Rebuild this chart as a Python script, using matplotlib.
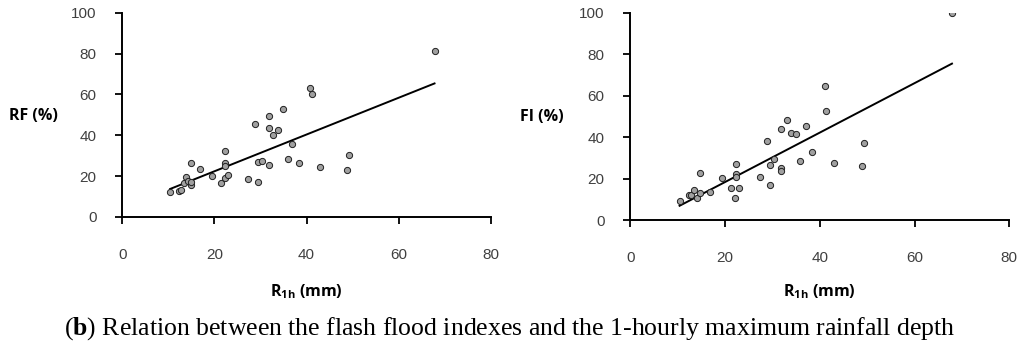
import numpy as np
import matplotlib
matplotlib.use("Agg")
import matplotlib.pyplot as plt

# values
rf_x = [10.4, 12.4, 12.8, 13.4, 13.8, 14.3, 14.9, 14.9, 15.0, 16.9, 19.4, 21.4, 22.2,
        22.4, 22.4, 22.4, 23.0, 27.4, 28.9, 29.5, 29.5, 30.4, 31.9, 31.9, 31.9, 32.8,
        33.9, 34.9, 35.9, 36.9, 38.4, 40.8, 41.3, 42.9, 48.8, 49.3, 67.8]
rf_y = [12.2, 12.7, 13.1, 16.5, 19.6, 17.6, 26.4, 15.5, 17.3, 23.3, 20.2, 16.8, 32.3,
        26.6, 24.8, 18.9, 20.6, 18.4, 45.4, 26.8, 17.1, 27.2, 49.3, 43.6, 25.3, 40.3,
        42.4, 52.7, 28.2, 35.6, 26.3, 63.0, 60.0, 24.5, 23.0, 30.5, 81.1]

fi_x = [10.4, 12.3, 12.9, 13.4, 14.0, 14.8, 14.8, 16.9, 19.4, 21.3, 22.2, 22.4, 22.4,
        22.4, 22.9, 27.4, 28.9, 29.4, 29.4, 30.4, 31.9, 31.9, 31.9, 33.0, 33.9, 34.9,
        35.9, 37.0, 38.4, 41.0, 41.4, 42.9, 48.9, 49.4, 67.9]
fi_y = [9.2, 12.1, 11.9, 14.3, 10.5, 22.7, 12.9, 13.3, 20.1, 15.3, 10.8, 26.8, 22.2,
        20.7, 15.4, 20.7, 37.9, 26.4, 16.9, 29.6, 43.9, 24.9, 23.6, 48.2, 42.1, 41.3,
        28.6, 45.3, 32.6, 64.5, 52.6, 27.7, 26.2, 37.3, 100.0]

x_ticks = [0, 20, 40, 60, 80]
y_ticks = [0, 20, 40, 60, 80, 100]
y_labels = ["RF (%)", "FI (%)"]
x_label = r"$\mathrm{R_{1h}}$ (mm)"
caption = r"($\mathbf{b}$) Relation between the flash flood indexes and the 1-hourly maximum rainfall depth"

plt.rcParams["mathtext.fontset"] = "custom"
plt.rcParams["mathtext.rm"] = "Open Sans:bold"
plt.rcParams["mathtext.bf"] = "Liberation Serif:bold"

fig = plt.figure(figsize=(10.24, 3.5), dpi=100)
ax1 = fig.add_axes([122.3 / 1024, 133 / 350, 368.4 / 1024, 204.3 / 350])
ax2 = fig.add_axes([630.3 / 1024, 130 / 350, 379 / 1024, 207.3 / 350])

panels = [(ax1, rf_x, rf_y, y_labels[0], -0.367), (ax2, fi_x, fi_y, y_labels[1], -0.347)]
for ax, xs, ys, ylab, xl_y in panels:
    ax.scatter(xs, ys, s=20, c="#a0a0a0", edgecolors="#202020", linewidths=0.7, zorder=3)
    # linear trend line
    k, b = np.polyfit(xs, ys, 1)
    xx = np.array([min(xs), max(xs)])
    ax.plot(xx, k * xx + b, color="black", lw=1.4, zorder=2)

    ax.set_xlim(0, 80)
    ax.set_ylim(0, 100)
    ax.set_xticks(x_ticks)
    ax.set_yticks(y_ticks)
    for s in ["top", "right"]:
        ax.spines[s].set_visible(False)
    for s in ["left", "bottom"]:
        ax.spines[s].set_linewidth(1.4)
    ax.tick_params(axis="both", direction="out", length=5, width=1.3,
                   labelsize=11, labelcolor="#404040")
    ax.tick_params(axis="x", pad=17)
    ax.tick_params(axis="y", pad=13.5)
    for lab in ax.get_xticklabels() + ax.get_yticklabels():
        lab.set_family("Liberation Sans")

    ax.set_ylabel(ylab, rotation=0, ha="right", va="center", fontsize=11.5,
                  fontweight="bold", family="Open Sans")
    ax.yaxis.set_label_coords(-0.175, 0.495)
    ax.set_xlabel(x_label, fontsize=11.5, fontweight="bold", family="Open Sans", va="center")
    ax.xaxis.set_label_coords(0.5, xl_y)

fig.text(0.498, 1 - 329 / 350, caption, ha="center", va="center",
         fontsize=18.5, family="Liberation Serif")

fig.savefig("out.png", dpi=100)
